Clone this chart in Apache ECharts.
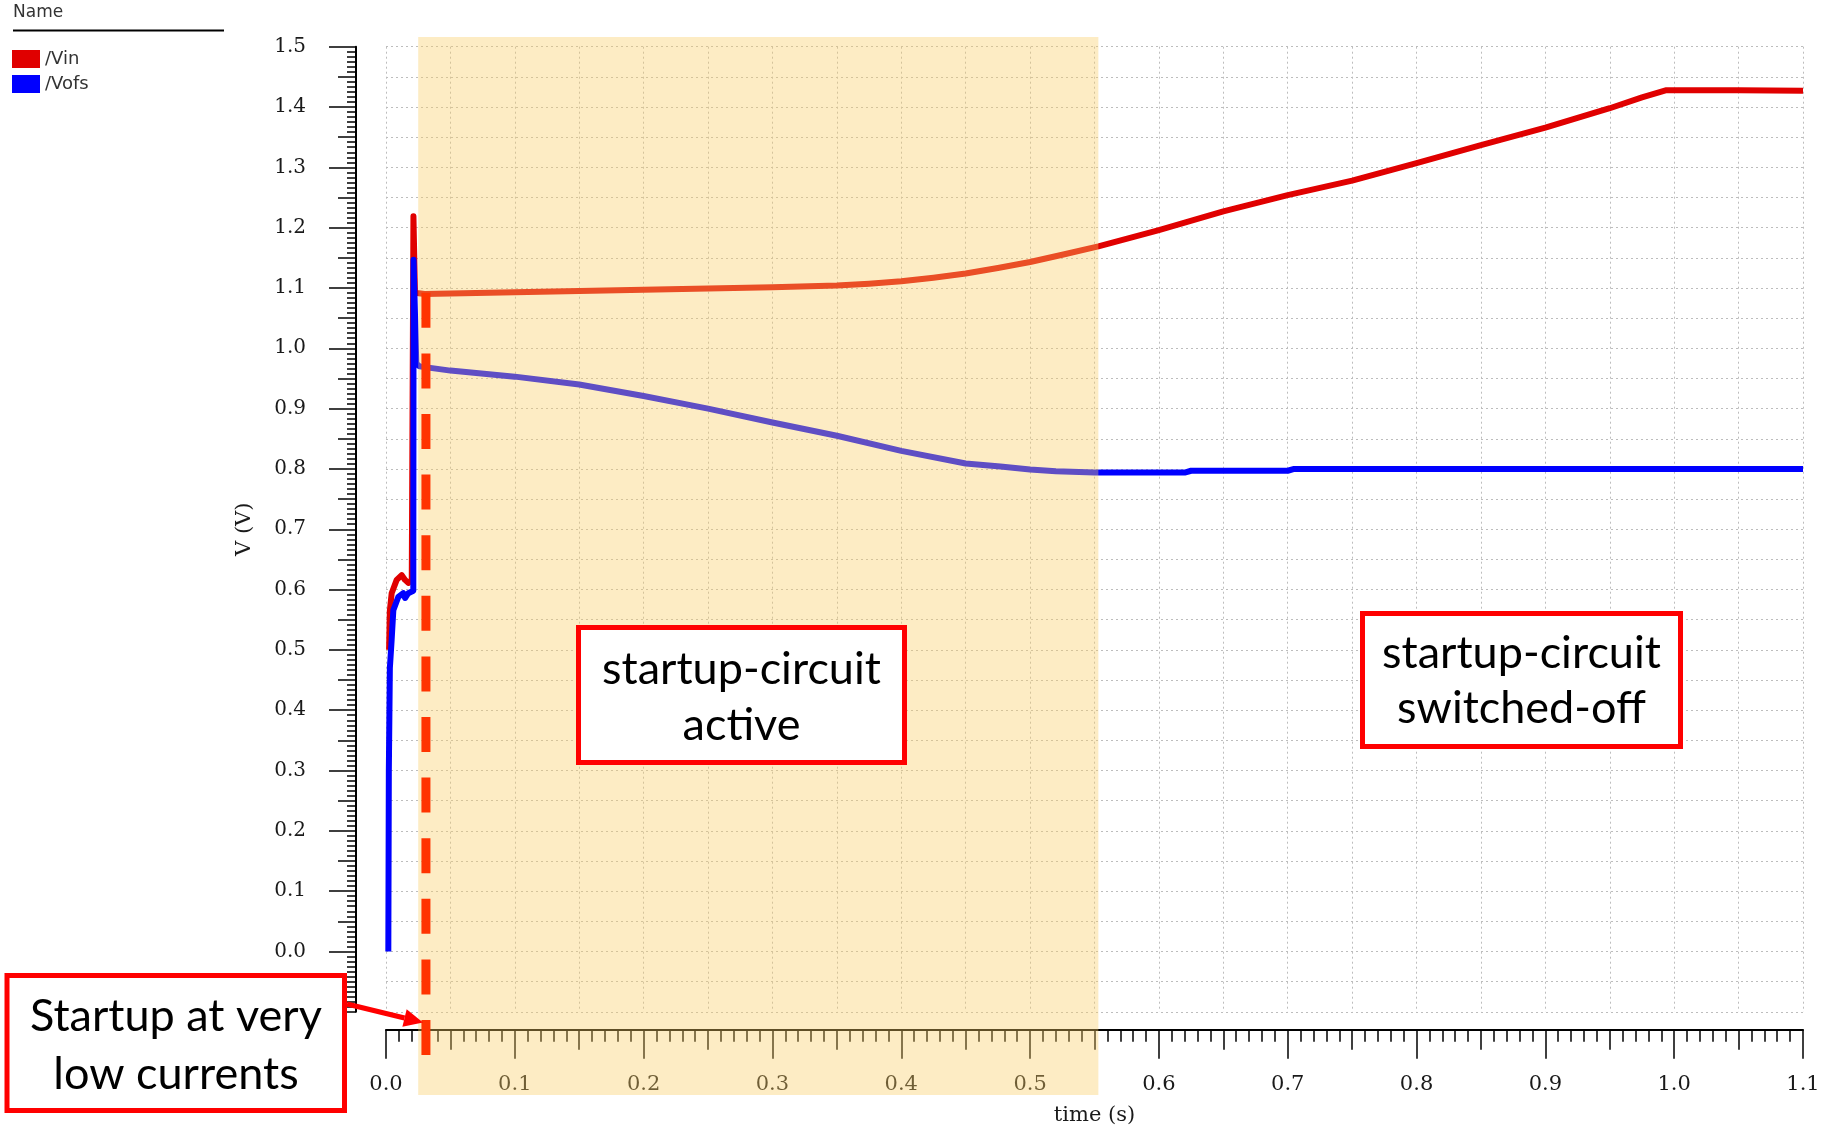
<!DOCTYPE html>
<html>
<head>
<meta charset="utf-8">
<script src="https://cdn.jsdelivr.net/npm/echarts@6/dist/echarts.min.js"></script>
<style>
html,body{margin:0;padding:0;background:#fff;}
#main{width:1826px;height:1132px;}
</style>
</head>
<body>
<div id="main"></div>
<script>
// ---------- data (time in s, voltage in V) ----------
const vinT = [0.0024,0.0030,0.0044,0.0083,0.0122,0.0148,0.0173,0.0200,0.0212,0.0213,0.0220,0.0225,0.030,0.05,0.10,0.15,0.20,0.25,0.30,0.35,0.375,0.40,0.425,0.45,0.475,0.50,0.525,0.553,0.60,0.65,0.70,0.75,0.80,0.85,0.90,0.95,0.975,0.994,1.05,1.10];
const vinV = [0.50,0.565,0.594,0.616,0.624,0.616,0.611,0.616,0.619,1.219,1.219,1.092,1.090,1.091,1.093,1.095,1.097,1.099,1.101,1.104,1.107,1.111,1.117,1.124,1.133,1.143,1.155,1.169,1.196,1.227,1.254,1.278,1.307,1.337,1.366,1.398,1.416,1.428,1.428,1.427];

const vofsT = [0.0018,0.0022,0.0030,0.0044,0.0057,0.0096,0.0134,0.0148,0.0173,0.0212,0.0214,0.0218,0.0235,0.026,0.05,0.10,0.15,0.20,0.25,0.30,0.35,0.40,0.45,0.477,0.50,0.52,0.55,0.62,0.625,0.70,0.705,0.80,0.90,1.00,1.10];
const vofsV = [0.0,0.30,0.47,0.517,0.566,0.588,0.594,0.586,0.594,0.598,1.147,1.147,0.975,0.970,0.963,0.953,0.940,0.921,0.900,0.877,0.855,0.830,0.809,0.804,0.799,0.796,0.794,0.794,0.797,0.797,0.800,0.800,0.800,0.800,0.800];

const seriesNames = ['/Vin', '/Vofs'];
const yMajorTicks = [0.0,0.1,0.2,0.3,0.4,0.5,0.6,0.7,0.8,0.9,1.0,1.1,1.2,1.3,1.4,1.5];
const yMidTicks = [0.05,0.15,0.25,0.35,0.45,0.55,0.65,0.75,0.85,0.95,1.05,1.15,1.25,1.35,1.45];
const yMinorTicks = [];
for (let i = 0; i <= 192; i++) yMinorTicks.push(Math.round((-0.1 + i * 0.05 / 6) * 1e6) / 1e6);

// annotation positions in data units
const bandT = [0.025, 0.553];
const bandV = [1.516, -0.238];
const startupMarkT = 0.031;
const startupMarkV = [1.092, -0.172];

// ---------- chart ----------
const pair = (t, v) => t.map((x, i) => [x, v[i]]);
const serif = 'DejaVu Serif';
const gridStyle = {color: '#bdbdbd', width: 1, type: [2, 3]};

const chart = echarts.init(document.getElementById('main'));
chart.setOption({
  animation: false,
  backgroundColor: '#fff',
  grid: {left: 386, right: 23, top: 46.7, bottom: 120.2, containLabel: false},
  legend: {
    data: seriesNames, orient: 'vertical', left: 12, top: 50, padding: 0,
    itemWidth: 28, itemHeight: 18, itemGap: 7, icon: 'rect',
    textStyle: {fontFamily: 'DejaVu Sans', fontSize: 18, color: '#333'}
  },
  xAxis: [
    {
      type: 'value', min: 0, max: 1.1, interval: 0.1, position: 'bottom', offset: 18,
      axisLine: {show: true, onZero: false, lineStyle: {color: '#000', width: 2}},
      axisTick: {show: true, length: 29, lineStyle: {color: '#000', width: 1.5}},
      minorTick: {show: true, splitNumber: 10, length: 12, lineStyle: {color: '#000', width: 1.5}},
      axisLabel: {margin: 44, fontFamily: serif, fontSize: 21, color: '#1a1a1a', formatter: v => v.toFixed(1)},
      splitLine: {show: false},
      name: 'time (s)', nameLocation: 'middle', nameGap: 75,
      nameTextStyle: {fontFamily: serif, fontSize: 21, color: '#1a1a1a'}
    },
    {
      type: 'value', min: 0, max: 1.1, interval: 0.05, position: 'bottom', offset: 18,
      axisLine: {show: false, onZero: false},
      axisTick: {show: true, length: 20, lineStyle: {color: '#000', width: 1.5}},
      axisLabel: {show: false},
      splitLine: {show: true, lineStyle: gridStyle}
    }
  ],
  yAxis: [
    {
      type: 'value', min: -0.1, max: 1.5, position: 'left', offset: 30,
      axisLine: {show: true, onZero: false, lineStyle: {color: '#000', width: 2}},
      axisTick: {show: true, length: 27, customValues: yMajorTicks, lineStyle: {color: '#000', width: 1.5}},
      axisLabel: {customValues: yMajorTicks, margin: 50, fontFamily: serif, fontSize: 20, color: '#1a1a1a', formatter: v => v.toFixed(1)},
      splitLine: {show: false},
      name: 'V (V)', nameLocation: 'middle', nameGap: 101,
      nameTextStyle: {fontFamily: serif, fontSize: 21, color: '#1a1a1a'}
    },
    {
      type: 'value', min: -0.1, max: 1.5, position: 'left', offset: 30,
      axisLine: {show: false, onZero: false},
      axisTick: {show: true, length: 18, customValues: yMidTicks, lineStyle: {color: '#000', width: 1.5}},
      axisLabel: {show: false}, splitLine: {show: false}
    },
    {
      type: 'value', min: -0.1, max: 1.5, position: 'left', offset: 30,
      axisLine: {show: false, onZero: false},
      axisTick: {show: true, length: 9, customValues: yMinorTicks, lineStyle: {color: '#000', width: 1.5}},
      axisLabel: {show: false}, splitLine: {show: false}
    },
    {
      type: 'value', min: -0.1, max: 1.5, interval: 0.05, position: 'left', offset: 30,
      axisLine: {show: false, onZero: false}, axisTick: {show: false}, axisLabel: {show: false},
      splitLine: {show: true, lineStyle: gridStyle}
    }
  ],
  series: [
    {name: seriesNames[0], type: 'line', xAxisIndex: 0, yAxisIndex: 0, data: pair(vinT, vinV),
     showSymbol: false, color: '#e00000', lineStyle: {width: 6, color: '#e00000', join: 'round'}, z: 2},
    {name: seriesNames[1], type: 'line', xAxisIndex: 0, yAxisIndex: 0, data: pair(vofsT, vofsV),
     showSymbol: false, color: '#0000ff', lineStyle: {width: 6, color: '#0000ff', join: 'round'}, z: 3}
  ]
});

// ---------- annotations ----------
const px = (t, v) => chart.convertToPixel({xAxisIndex: 0, yAxisIndex: 0}, [t, v]);
const b0 = px(bandT[0], bandV[0]), b1 = px(bandT[1], bandV[1]);
const m0 = px(startupMarkT, startupMarkV[0]), m1 = px(startupMarkT, startupMarkV[1]);

const tip = [423, 1022.5], tail = [347, 1004];
const dx = tip[0] - tail[0], dy = tip[1] - tail[1], L = Math.hypot(dx, dy);
const ux = dx / L, uy = dy / L, nx = -uy, ny = ux;
const head = 19, hw = 9;
const base = [tip[0] - ux * head, tip[1] - uy * head];

const boxFont = 'Lato';
function box(x, y, w, h, text, cx, cy, lh) {
  return [
    {type: 'rect', z: 80, shape: {x: x, y: y, width: w, height: h},
     style: {fill: '#fff', stroke: '#ff0000', lineWidth: 5}},
    {type: 'text', z: 81, x: cx, y: cy,
     style: {text: text, fontFamily: boxFont, fontSize: 45, fill: '#000', align: 'center', verticalAlign: 'middle', lineHeight: lh}}
  ];
}

chart.setOption({
  graphic: [
    {type: 'text', z: 90, x: 13, y: 21,
     style: {text: 'Name', fontFamily: 'DejaVu Sans', fontSize: 17, fill: '#333', align: 'left', verticalAlign: 'bottom'}},
    {type: 'line', z: 90, shape: {x1: 13, y1: 30.5, x2: 224, y2: 30.5}, style: {stroke: '#000', lineWidth: 2}},
    {type: 'rect', z: 50, shape: {x: b0[0], y: b0[1], width: b1[0] - b0[0], height: b1[1] - b0[1]},
     style: {fill: 'rgba(250,205,100,0.38)'}},
    {type: 'line', z: 60, shape: {x1: m0[0], y1: m0[1], x2: m1[0], y2: m1[1]},
     style: {stroke: '#ff3300', lineWidth: 9, lineDash: [35, 25.6], lineCap: 'butt'}},
    ...box(578.5, 627.5, 326, 135, 'startup-circuit\nactive', 741.5, 697, 56),
    ...box(1362.5, 613.5, 318, 133, 'startup-circuit\nswitched-off', 1521.5, 681, 55),
    ...box(7, 975.5, 337.5, 135, 'Startup at very\nlow currents', 176, 1045, 58),
    {type: 'line', z: 85, shape: {x1: tail[0], y1: tail[1], x2: base[0], y2: base[1]},
     style: {stroke: '#ff0000', lineWidth: 5}},
    {type: 'polygon', z: 85, shape: {points: [tip, [base[0] + nx * hw, base[1] + ny * hw], [base[0] - nx * hw, base[1] - ny * hw]]},
     style: {fill: '#ff0000'}}
  ]
});
</script>
</body>
</html>
